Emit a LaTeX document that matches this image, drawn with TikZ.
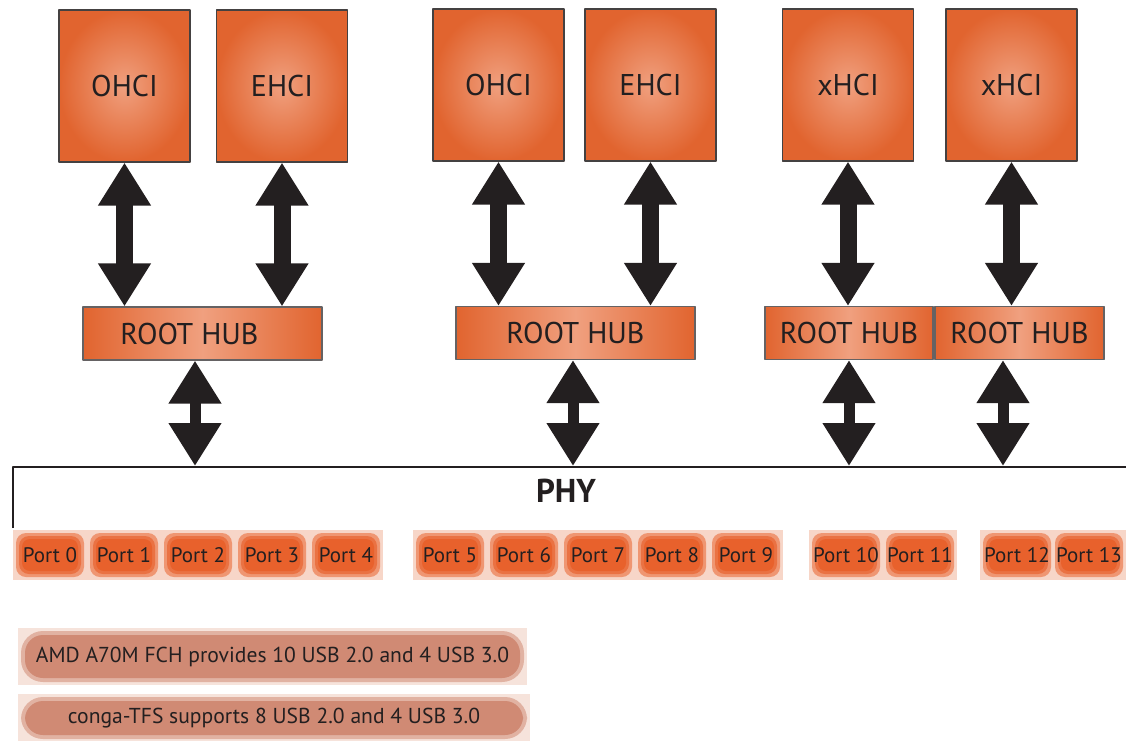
\documentclass[tikz,border=0pt]{standalone}
\usepackage{fontspec}
\setmainfont{PT Sans}
\usetikzlibrary{arrows.meta}
\definecolor{hcorange}{HTML}{E1642F}
\definecolor{hclight}{HTML}{F0A07F}
\definecolor{portorange}{HTML}{E8612C}
\definecolor{portfade}{HTML}{F7D6C8}
\definecolor{bannercol}{HTML}{D08A74}
\definecolor{bannerfade}{HTML}{F6E3DB}
\definecolor{inkcol}{HTML}{231F20}

\begin{document}
\begin{tikzpicture}[x=0.5pt, y=-0.5pt, font=\fontsize{15}{17}\selectfont, line join=round, text=inkcol,
  hcbox/.style={draw=inkcol!85, line width=0.6pt, inner sep=0pt, minimum width=65.5pt, minimum height=76pt, inner color=hclight, outer color=hcorange},
  hubbox/.style={draw=inkcol!70, line width=0.6pt, inner sep=0pt, minimum height=26.5pt, left color=hcorange, right color=hcorange, middle color=hclight},
  portbox/.style={minimum width=37pt, minimum height=25pt, inner sep=0pt, fill=portfade, font=\fontsize{10.5}{12}\selectfont,
    path picture={
      \fill[portorange!55!portfade, rounded corners=5pt] ([shift={(1.5pt,1.5pt)}]path picture bounding box.south west) rectangle ([shift={(-1.5pt,-1.5pt)}]path picture bounding box.north east);
      \fill[portorange!85!portfade, rounded corners=5pt] ([shift={(3pt,3pt)}]path picture bounding box.south west) rectangle ([shift={(-3pt,-3pt)}]path picture bounding box.north east);
      \fill[portorange, rounded corners=4pt] ([shift={(4.5pt,4.5pt)}]path picture bounding box.south west) rectangle ([shift={(-4.5pt,-4.5pt)}]path picture bounding box.north east);}},
  banner/.style={inner sep=0pt, fill=bannerfade, font=\fontsize{10.8}{13}\selectfont,
    path picture={
      \fill[bannercol!55!bannerfade, rounded corners=11pt] ([shift={(1.5pt,1.5pt)}]path picture bounding box.south west) rectangle ([shift={(-1.5pt,-1.5pt)}]path picture bounding box.north east);
      \fill[bannercol, rounded corners=9pt] ([shift={(3.5pt,3.5pt)}]path picture bounding box.south west) rectangle ([shift={(-3.5pt,-3.5pt)}]path picture bounding box.north east);}},
  bigarrow/.style={draw=inkcol, line width=8.5pt, {Triangle[width=25pt,length=21.5pt]}-{Triangle[width=25pt,length=21.5pt]}},
  smallarrow/.style={draw=inkcol, line width=5.5pt, {Triangle[width=25pt,length=21.5pt]}-{Triangle[width=25pt,length=21.5pt]}}]
\useasboundingbox (0,0) rectangle (1126,740);

% host controllers
\node[hcbox] (ohcia) at (124.5,86) {OHCI};
\node[hcbox] (ehcia) at (282,86) {EHCI};
\node[hcbox] (ohcib) at (498.5,85) {OHCI};
\node[hcbox] (ehcib) at (650.5,85) {EHCI};
\node[hcbox] (xhcia) at (848,85) {xHCI};
\node[hcbox] (xhcib) at (1011.5,85) {xHCI};

% root hubs
\node[hubbox, minimum width=119.5pt] (rha) at (202.5,333.5) {ROOT HUB\hspace*{13pt}};
\node[hubbox, minimum width=119.5pt] (rhb) at (575.5,333) {ROOT HUB};
\node[hubbox, minimum width=84pt] (rhc) at (849,333) {ROOT HUB};
\node[hubbox, minimum width=84.5pt] (rhd) at (1019.5,333) {ROOT HUB};

\foreach \a/\b in {ohcia/rha, ehcia/rha, ohcib/rhb, ehcib/rhb, xhcia/rhc, xhcib/rhd}
  \draw[bigarrow] (\a.south) -- (\a.south |- \b.north);

% PHY
\draw[inkcol, line width=0.8pt] (13,528) -- (13,467) -- (1126,467);
\node[font=\fontsize{16.5}{18}\bfseries] (phy) at (566,491) {PHY};
\coordinate (pa) at (195,466);
\coordinate (pb) at (573,466);
\coordinate (pc) at (849,466);
\coordinate (pd) at (1003,466);
\foreach \r/\p in {rha/pa, rhb/pb, rhc/pc, rhd/pd}
  \draw[smallarrow] (\r.south -| \p) -- (\p);

% ports
\foreach \i/\x in {0/50,1/124,2/198,3/272,4/346,5/450,6/524,7/598,8/672,9/746,10/846,11/920,12/1017,13/1089}
  \node[portbox] (port\i) at (\x,555) {Port \i};

% notes
\node[banner, minimum width=254.5pt, minimum height=28.5pt] (fch) at (272.5,656.5) {AMD A70M FCH provides 10 USB 2.0 and 4 USB 3.0};
\node[banner, minimum width=256pt, minimum height=24pt] (tfs) at (274,718) {conga-TFS supports 8 USB 2.0 and 4 USB 3.0};
\end{tikzpicture}
\end{document}
